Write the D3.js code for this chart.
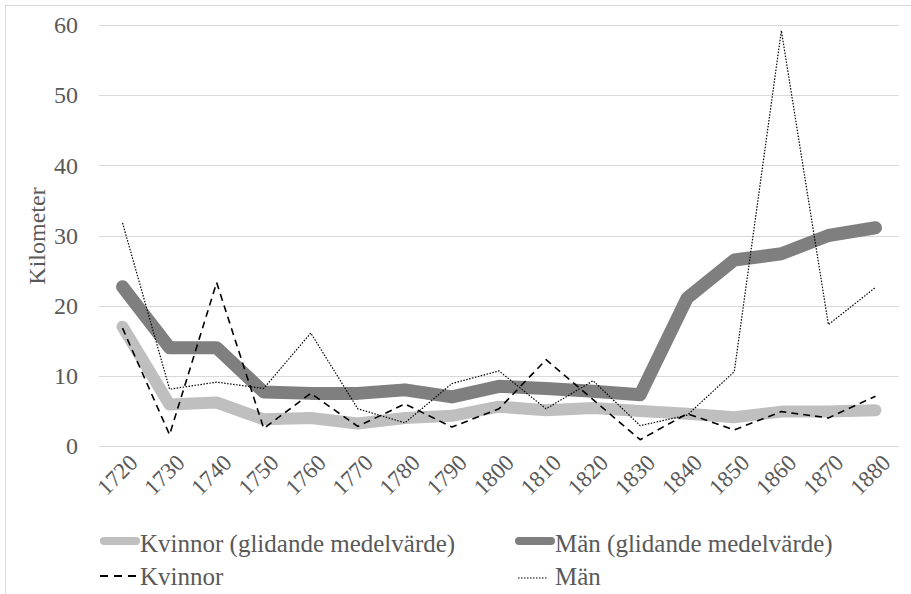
<!DOCTYPE html>
<html><head><meta charset="utf-8">
<script src="https://cdn.jsdelivr.net/npm/d3@7"></script>
<style>
body{margin:0;background:#fff}
svg{display:block;font-family:"Liberation Serif","Times New Roman",Tinos,serif}
svg text{font-family:"Liberation Serif","Times New Roman",Tinos,serif !important}
</style>
</head><body>
<script>
const years = ["1720","1730","1740","1750","1760","1770","1780","1790","1800","1810","1820","1830","1840","1850","1860","1870","1880"];
const kvinnorMA = [17,5.9,6.2,3.8,4,3.2,4,4.3,5.6,5.1,5.4,5,4.6,4.1,4.9,4.9,5.1];
const manMA = [22.7,14,14,7.7,7.5,7.5,8,7,8.5,8.2,7.8,7.3,21.1,26.5,27.4,30,31.1];
const kvinnor = [16.8,1.6,23.3,2.5,7.5,2.8,6,2.7,5.3,12.3,6.6,0.9,4.6,2.3,4.9,4,7.1];
const man = [31.8,8.1,9.1,8.2,16.1,5.3,3.3,8.9,10.7,5.3,9.3,2.9,4.4,10.6,59.2,17.3,22.6];
const yTicks = [0,10,20,30,40,50,60];
const seriesNames = ["Kvinnor (glidande medelvärde)","Män (glidande medelvärde)","Kvinnor","Män"];

const FONT='"Liberation Serif", "Times New Roman", Tinos, serif';
const W=911,H=594;
const svg=d3.select("body").append("svg").attr("width",W).attr("height",H).attr("font-family",FONT);
svg.append("rect").attr("x",5.5).attr("y",5.5).attr("width",W-5).attr("height",H-5).attr("fill","#fff").attr("stroke","#d9d9d9");

const x=d3.scalePoint().domain(years).range([99,899]).padding(0.5);
const y=d3.scaleLinear().domain([0,60]).range([446,25]);

const grid=svg.append("g");
yTicks.forEach(t=>{
  grid.append("line").attr("x1",99).attr("x2",899).attr("y1",Math.round(y(t))+0.5).attr("y2",Math.round(y(t))+0.5).attr("stroke","#d9d9d9").attr("stroke-width",1);
});
const yAxis=svg.append("g").attr("transform","translate(99,0)").call(d3.axisLeft(y).tickValues(yTicks).tickSize(0).tickPadding(21));
yAxis.attr("font-family",FONT);
yAxis.select(".domain").remove();
yAxis.selectAll("text").attr("font-size",24).attr("fill","#595959").style("font-family",FONT);

const xAxis=svg.append("g").attr("transform","translate(0,446)").call(d3.axisBottom(x).tickSize(0).tickPadding(0));
xAxis.attr("font-family",FONT);
xAxis.select(".domain").remove();
xAxis.selectAll("text").attr("font-size",23).attr("fill","#595959").style("font-family",FONT)
  .attr("text-anchor","end").attr("dy",null).attr("y",0)
  .attr("transform","translate(16,18) rotate(-45)");

svg.append("text").attr("transform","translate(45,236) rotate(-90)").attr("text-anchor","middle")
  .attr("font-size",24).attr("fill","#595959").style("font-family",FONT).text("Kilometer");

const line=d3.line().x((d,i)=>x(years[i])).y(d=>y(d));
const styles=[
  {data:kvinnorMA,stroke:"#bfbfbf",w:12,dash:null,cap:"round"},
  {data:manMA,stroke:"#7f7f7f",w:13,dash:null,cap:"round"},
  {data:kvinnor,stroke:"#000",w:1.6,dash:"7,5",cap:"butt"},
  {data:man,stroke:"#000",w:1.2,dash:"1.5,1.5",cap:"butt"}
];
styles.forEach(s=>{
  svg.append("path").datum(s.data).attr("d",line).attr("fill","none").attr("stroke",s.stroke)
    .attr("stroke-width",s.w).attr("stroke-dasharray",s.dash).attr("stroke-linecap",s.cap).attr("stroke-linejoin","round");
});

const leg=[{x:104,y:541,tx:140},{x:519,y:541,tx:555},{x:100,y:576,tx:140},{x:518,y:578,tx:555}];
const legEnd=[136,551,136,548];
const legDash=[null,null,"8,6","1.5,1.5"];
styles.forEach((s,i)=>{
  const p=leg[i];
  svg.append("line").attr("x1",p.x).attr("x2",legEnd[i]).attr("y1",p.y).attr("y2",p.y)
    .attr("stroke",s.stroke).attr("stroke-width",i<2?8:(i==2?1.8:1.2)).attr("stroke-dasharray",legDash[i]).attr("stroke-linecap",s.cap);
  svg.append("text").attr("x",p.tx).attr("y",i<2?552:585).attr("font-size",25).attr("fill","#595959").style("font-family",FONT).text(seriesNames[i]);
});
</script>
</body></html>
